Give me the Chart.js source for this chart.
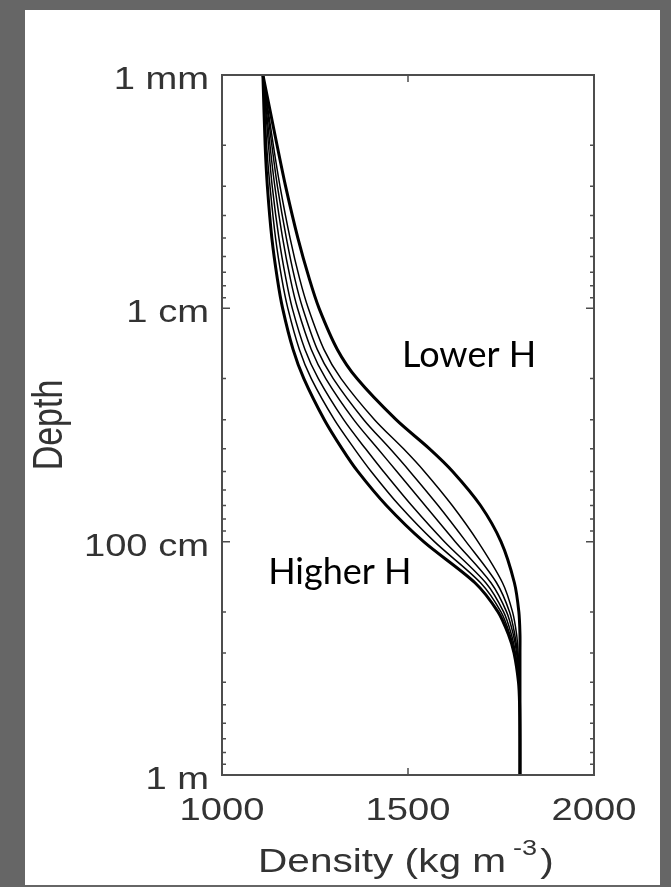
<!DOCTYPE html>
<html>
<head>
<meta charset="utf-8">
<script src="https://cdn.jsdelivr.net/npm/chart.js@4.4.1/dist/chart.umd.min.js"></script>
<style>
    html, body { margin: 0; padding: 0; background: #666666; }
    #panel { position: absolute; left: 25px; top: 10px; width: 635px; height: 875px; background: #ffffff; }
    #densityChart { position: absolute; left: 0; top: 0; }
</style>
</head>
<body>
<div id="panel"></div>
<canvas id="densityChart" width="671" height="887"></canvas>
<script>
// depth levels (m) shared by all profiles
const depths = [0.001, 0.002, 0.003, 0.005, 0.0075, 0.01, 0.015, 0.02, 0.03, 0.04, 0.05, 0.07, 0.1, 0.15, 0.2, 0.25, 0.3, 0.4, 0.5, 0.7, 1];

// density profiles (kg m-3), from higher H (left) to lower H (right)
const density1 = [1110, 1116, 1122, 1134, 1149, 1163, 1191, 1220, 1275, 1323, 1365, 1442, 1542, 1680, 1742, 1770, 1785, 1797, 1800, 1801, 1801];
const density2 = [1110, 1120, 1129, 1144, 1161, 1177, 1208, 1240, 1302, 1356, 1401, 1477, 1571, 1695, 1750, 1774, 1787, 1798, 1800, 1801, 1801];
const density3 = [1110, 1125, 1135, 1153, 1172, 1189, 1223, 1259, 1327, 1386, 1434, 1510, 1598, 1709, 1757, 1778, 1789, 1798, 1800, 1801, 1801];
const density4 = [1110, 1129, 1142, 1163, 1184, 1203, 1240, 1279, 1354, 1419, 1470, 1546, 1627, 1723, 1765, 1783, 1792, 1799, 1800, 1801, 1801];
const density5 = [1110, 1134, 1149, 1173, 1196, 1217, 1256, 1299, 1381, 1452, 1505, 1581, 1656, 1738, 1773, 1787, 1794, 1799, 1801, 1801, 1801];
const density6 = [1110, 1138, 1156, 1183, 1209, 1232, 1274, 1320, 1410, 1488, 1544, 1619, 1688, 1754, 1781, 1792, 1796, 1800, 1801, 1801, 1801];
const density7 = [1110, 1148, 1171, 1204, 1235, 1261, 1310, 1363, 1468, 1558, 1620, 1695, 1750, 1786, 1798, 1801, 1801, 1801, 1801, 1801, 1801];

const profiles = [density1, density2, density3, density4, density5, density6, density7];

// axis ticks
const xTicks = [1000, 1500, 2000];
const xTickLabels = ['1000', '1500', '2000'];
const yMajorTicks = [0.001, 0.01, 0.1, 1];
const yTickLabels = ['1 mm', '1 cm', '100 cm', '1 m'];

// in-plot labels: text, density, depth (baseline)
const noteTexts = ['Lower H', 'Higher H'];
const noteDensity = [1484, 1124];
const noteDepth = [0.0179, 0.152];

const axisFont = '"Liberation Sans", Arial, sans-serif';
const textColor = '#333333';
const stretch = 1.23; // the original figure is widened horizontally

const datasets = profiles.map((dens, i) => ({
    label: 'profile ' + (i + 1),
    data: dens.map((d, j) => ({ x: d, y: depths[j] })),
    showLine: true,
    borderColor: '#000000',
    borderWidth: (i === 0 || i === profiles.length - 1) ? 3 : 1.5,
    pointRadius: 0,
    tension: 0.3,
    fill: false
}));

function wideText(ctx, txt, x, y, align, rotate) {
    ctx.save();
    ctx.translate(x, y);
    ctx.scale(stretch, 1);
    if (rotate) ctx.rotate(-Math.PI / 2);
    ctx.textAlign = align;
    ctx.fillText(txt, 0, 0);
    ctx.restore();
}

// box, inward ticks, tick labels, titles and notes
const framePlugin = {
    id: 'frame',
    afterDatasetsDraw(chart) {
        const ctx = chart.ctx;
        const a = chart.chartArea;
        const xs = chart.scales.x;
        const ys = chart.scales.y;
        ctx.save();
        ctx.strokeStyle = '#4d4d4d';
        ctx.lineWidth = 2;
        ctx.strokeRect(a.left, a.top, a.right - a.left, a.bottom - a.top);

        ctx.lineWidth = 1.5;
        ys.ticks.forEach(t => {
            const py = ys.getPixelForValue(t.value);
            const len = yMajorTicks.includes(t.value) ? 8 : 4;
            ctx.beginPath();
            ctx.moveTo(a.left, py); ctx.lineTo(a.left + len, py);
            ctx.moveTo(a.right, py); ctx.lineTo(a.right - len, py);
            ctx.stroke();
        });
        xTicks.forEach(v => {
            const px = xs.getPixelForValue(v);
            ctx.beginPath();
            ctx.moveTo(px, a.top); ctx.lineTo(px, a.top + 7);
            ctx.moveTo(px, a.bottom); ctx.lineTo(px, a.bottom - 7);
            ctx.stroke();
        });

        ctx.fillStyle = textColor;
        ctx.textBaseline = 'alphabetic';
        ctx.font = '31px ' + axisFont;
        yMajorTicks.forEach((v, k) => {
            wideText(ctx, yTickLabels[k], a.left - 13, ys.getPixelForValue(v) + 14, 'right');
        });
        xTicks.forEach((v, k) => {
            wideText(ctx, xTickLabels[k], xs.getPixelForValue(v), a.bottom + 45, 'center');
        });

        ctx.font = '34px ' + axisFont;
        wideText(ctx, 'Depth', 62, (a.top + a.bottom) / 2, 'center', true);

        // x axis title with superscript
        const base = 872;
        let x0 = 258;
        ctx.font = '33px ' + axisFont;
        const mainPart = 'Density (kg m';
        wideText(ctx, mainPart, x0, base, 'left');
        x0 += ctx.measureText(mainPart).width * stretch + 7;
        ctx.font = '22px ' + axisFont;
        wideText(ctx, '-3', x0, base - 17, 'left');
        x0 += ctx.measureText('-3').width * stretch + 3;
        ctx.font = '33px ' + axisFont;
        wideText(ctx, ')', x0, base, 'left');

        ctx.fillStyle = '#000000';
        ctx.font = '36px Lato, "Open Sans", sans-serif';
        ctx.textAlign = 'left';
        noteTexts.forEach((txt, i) => {
            ctx.fillText(txt, xs.getPixelForValue(noteDensity[i]), ys.getPixelForValue(noteDepth[i]));
        });
        ctx.restore();
    }
};

new Chart(document.getElementById('densityChart').getContext('2d'), {
    type: 'scatter',
    data: { datasets: datasets },
    options: {
        responsive: false,
        animation: false,
        layout: { padding: { left: 0, top: 75, right: 77, bottom: 0 } },
        plugins: {
            legend: { display: false },
            tooltip: { enabled: false }
        },
        scales: {
            x: {
                type: 'linear',
                min: 1000,
                max: 2000,
                afterFit(scale) { scale.height = 112; },
                afterBuildTicks(scale) { scale.ticks = xTicks.map(v => ({ value: v })); },
                grid: { display: false, drawTicks: false },
                border: { display: false },
                ticks: { display: false }
            },
            y: {
                type: 'logarithmic',
                reverse: true,
                min: 0.001,
                max: 1,
                afterFit(scale) { scale.width = 222; },
                afterBuildTicks(scale) {
                    const list = [];
                    yMajorTicks.forEach((m, k) => {
                        list.push({ value: m, major: true });
                        if (k < yMajorTicks.length - 1) {
                            for (let s = 2; s <= 9; s++) list.push({ value: +(m * s).toPrecision(3) });
                        }
                    });
                    scale.ticks = list;
                },
                grid: { display: false, drawTicks: false },
                border: { display: false },
                ticks: { display: false }
            }
        }
    },
    plugins: [framePlugin]
});
</script>
</body>
</html>
